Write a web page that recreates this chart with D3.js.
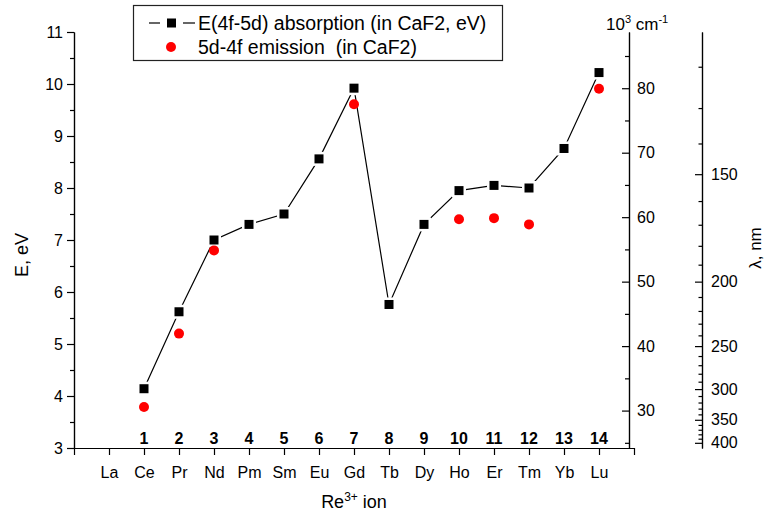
<!DOCTYPE html>
<html>
<head>
<meta charset="utf-8">
<script src="https://cdn.jsdelivr.net/npm/d3@7"></script>
<style>
  body { margin: 0; background: #fff; }
  svg { font-family: Arial, "Liberation Sans", sans-serif; }
  .tick text { font-size: 16px; fill: #000; }
  .tick line, .domain { stroke: #000; stroke-width: 1.2px; }
</style>
</head>
<body>
<div id="chart"></div>
<script>
// Re3+ ions along the x axis (index 0 = La)
var elements = ["La","Ce","Pr","Nd","Pm","Sm","Eu","Gd","Tb","Dy","Ho","Er","Tm","Yb","Lu"];
var ionNumbers = ["1","2","3","4","5","6","7","8","9","10","11","12","13","14"];

// E(4f-5d) absorption in CaF2, eV (Ce..Lu)
var absIdx = [1,2,3,4,5,6,7,8,9,10,11,12,13,14];
var absEv  = [4.14,5.62,7.00,7.30,7.50,8.56,9.92,5.76,7.30,7.95,8.05,8.00,8.76,10.22];

// 5d-4f emission in CaF2, eV
var emIdx = [1,2,3,7,10,11,12,14];
var emEv  = [3.79,5.20,6.80,9.61,7.40,7.42,7.30,9.91];

// secondary axes
var kcmMajor = [30,40,50,60,70,80];
var kcmMinor = [25,35,45,55,65,75,85];
var nmMajor = [150,200,250,300,350,400];
var nmMinor = d3.range(120, 401, 10).filter(function(d) { return d % 50 !== 0; });

var W = 767, H = 514;
var svg = d3.select("#chart").append("svg")
    .attr("width", W)
    .attr("height", H);

var x = d3.scaleLinear().domain([-1, 15]).range([74, 634]);
var y = d3.scaleLinear().domain([3, 11]).range([448, 32]);

var hc = 1239.84;        // eV*nm
var kcm2ev = 0.123984;   // 10^3 cm^-1 -> eV

// left axis
svg.append("g")
    .attr("transform", "translate(74,0)")
    .call(d3.axisLeft(y).tickValues(d3.range(3, 12)).tickSize(7).tickSizeOuter(0).tickPadding(4));
svg.append("g")
    .attr("transform", "translate(74,0)")
    .call(d3.axisLeft(y).tickValues(d3.range(3.5, 11, 1)).tickSize(4).tickSizeOuter(0).tickFormat(""));

// bottom axis
svg.append("g")
    .attr("transform", "translate(0,448)")
    .call(d3.axisBottom(x).tickValues(d3.range(-1, 16)).tickSize(7).tickSizeOuter(0).tickPadding(12)
        .tickFormat(function(i) { return elements[i] || ""; }));

// ion numbers above the axis
svg.append("g").selectAll("text")
    .data(ionNumbers)
    .enter().append("text")
    .attr("x", function(d, i) { return x(i + 1); })
    .attr("y", 444)
    .attr("text-anchor", "middle")
    .style("font-size", "16px")
    .style("font-weight", "bold")
    .text(function(d) { return d; });

// 10^3 cm^-1 axis
svg.append("g").attr("transform", "translate(629,0)")
    .call(d3.axisRight(y)
    .tickValues(kcmMajor.map(function(k) { return k * kcm2ev; }))
    .tickFormat(function(e) { return Math.round(e / kcm2ev); })
    .tickSize(-7).tickSizeOuter(0).tickPadding(8));
svg.append("g").attr("transform", "translate(629,0)")
    .call(d3.axisRight(y)
    .tickValues(kcmMinor.map(function(k) { return k * kcm2ev; }))
    .tickFormat("").tickSize(-4).tickSizeOuter(0));

// wavelength axis
svg.append("g").attr("transform", "translate(702,0)")
    .call(d3.axisRight(y)
    .tickValues(nmMajor.map(function(n) { return hc / n; }))
    .tickFormat(function(e) { return Math.round(hc / e); })
    .tickSize(-7).tickSizeOuter(0).tickPadding(9));
svg.append("g").attr("transform", "translate(702,0)")
    .call(d3.axisRight(y)
    .tickValues(nmMinor.map(function(n) { return hc / n; }))
    .tickFormat("").tickSize(-3.5).tickSizeOuter(0));

// axis titles
svg.append("text")
    .attr("transform", "translate(28,255) rotate(-90)")
    .attr("text-anchor", "middle")
    .style("font-size", "18px")
    .text("E, eV");

var xt = svg.append("text")
    .attr("x", 354).attr("y", 508)
    .attr("text-anchor", "middle")
    .style("font-size", "18px");
xt.append("tspan").text("Re");
xt.append("tspan").attr("dy", -7).style("font-size", "12px").text("3+");
xt.append("tspan").attr("dy", 7).text(" ion");

var ct = svg.append("text")
    .attr("x", 606).attr("y", 30)
    .style("font-size", "17px");
ct.append("tspan").text("10");
ct.append("tspan").attr("dy", -7).style("font-size", "11px").text("3");
ct.append("tspan").attr("dy", 7).text(" cm");
ct.append("tspan").attr("dy", -7).style("font-size", "11px").text("-1");

svg.append("text")
    .attr("transform", "translate(761,248) rotate(-90)")
    .attr("text-anchor", "middle")
    .style("font-size", "17px")
    .text("\u03bb, nm");

// absorption line + squares
var absData = absIdx.map(function(d, i) { return { i: d, e: absEv[i] }; });
var emData = emIdx.map(function(d, i) { return { i: d, e: emEv[i] }; });

svg.append("path")
    .datum(absData)
    .attr("fill", "none")
    .attr("stroke", "#000")
    .attr("stroke-width", 1.2)
    .attr("d", d3.line().x(function(d) { return x(d.i); }).y(function(d) { return y(d.e); }));

// white halo gives the small gap between line and marker
svg.append("g").selectAll("rect")
    .data(absData)
    .enter().append("rect")
    .attr("x", function(d) { return x(d.i) - 7; })
    .attr("y", function(d) { return y(d.e) - 7; })
    .attr("width", 14).attr("height", 14)
    .attr("fill", "#fff");
svg.append("g").selectAll("rect")
    .data(absData)
    .enter().append("rect")
    .attr("x", function(d) { return x(d.i) - 4.5; })
    .attr("y", function(d) { return y(d.e) - 4.5; })
    .attr("width", 9).attr("height", 9)
    .attr("fill", "#000");

svg.append("g").selectAll("circle")
    .data(emData)
    .enter().append("circle")
    .attr("cx", function(d) { return x(d.i); })
    .attr("cy", function(d) { return y(d.e); })
    .attr("r", 5)
    .attr("fill", "#ff0000");

// legend
var lg = svg.append("g");
lg.append("rect")
    .attr("x", 133.5).attr("y", 5.5)
    .attr("width", 369).attr("height", 55)
    .attr("fill", "#fff")
    .attr("stroke", "#222")
    .attr("stroke-width", 1.2);
lg.append("line").attr("x1", 149).attr("x2", 160).attr("y1", 23).attr("y2", 23).attr("stroke", "#000").attr("stroke-width", 1.2);
lg.append("line").attr("x1", 183).attr("x2", 195).attr("y1", 23).attr("y2", 23).attr("stroke", "#000").attr("stroke-width", 1.2);
lg.append("rect").attr("x", 167).attr("y", 18.5).attr("width", 9).attr("height", 9).attr("fill", "#000");
lg.append("circle").attr("cx", 171).attr("cy", 47).attr("r", 5).attr("fill", "#ff0000");
lg.append("text").attr("x", 198).attr("y", 30)
    .style("font-size", "19.5px")
    .text("E(4f-5d) absorption (in CaF2, eV)");
lg.append("text").attr("x", 198).attr("y", 54)
    .style("font-size", "19.5px")
    .style("white-space", "pre")
    .text("5d-4f emission  (in CaF2)");
</script>
</body>
</html>
